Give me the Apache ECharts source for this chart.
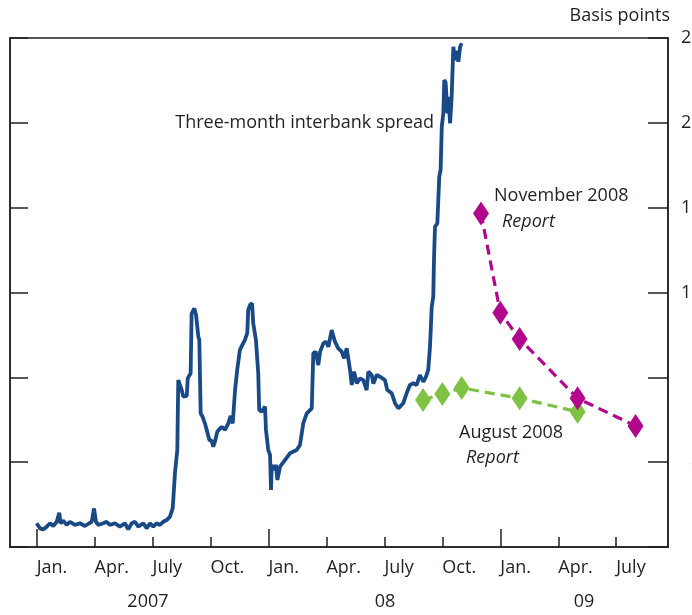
<!DOCTYPE html>
<html>
<head>
<meta charset="utf-8">
<script src="https://cdn.jsdelivr.net/npm/echarts@6/dist/echarts.min.js"></script>
<style>
html,body{margin:0;padding:0;background:#fff;}
#chart{width:692px;height:615px;}
</style>
</head>
<body>
<div id="chart"></div>
<script>
// x values are months since 1 Jan 2007 (0 = Jan 2007)
var quarterTicks = [0, 3, 6, 9, 12, 15, 18, 21, 24, 27, 30];
var quarterLabels = ['Jan.', 'Apr.', 'July', 'Oct.'];
var yearTicks = [0, 12, 24];
var yearLabelPos = [5.76, 18.03, 28.33];
var yearLabels = ['2007', '08', '09'];
var yTicks = [0, 40, 80, 120, 160, 200, 240];

// Three-month interbank spread (basis points)
var spread = [
  [0.00, 11.2], [0.17, 8.8], [0.34, 8.3], [0.52, 9.6], [0.69, 11.2], [0.86, 9.9],
  [1.04, 11.9], [1.17, 16.2], [1.24, 11.2], [1.38, 12.4], [1.55, 10.4], [1.72, 11.9],
  [1.98, 10.4], [2.24, 11.2], [2.50, 9.9], [2.72, 11.2], [2.85, 11.9], [2.97, 18.2],
  [3.07, 11.9], [3.19, 10.4], [3.45, 11.2], [3.62, 11.9], [3.79, 10.4], [4.05, 11.2],
  [4.31, 9.6], [4.57, 11.2], [4.74, 8.3], [4.92, 11.2], [5.09, 11.9], [5.26, 9.6],
  [5.52, 11.2], [5.69, 8.8], [5.87, 11.2], [6.04, 9.6], [6.21, 11.2], [6.38, 10.4],
  [6.55, 11.9], [6.73, 12.7], [6.90, 14.3], [7.04, 18.2], [7.07, 22.0], [7.16, 35.0],
  [7.28, 45.7], [7.33, 78.7], [7.51, 74.0], [7.59, 70.9], [7.77, 71.2], [7.82, 79.5],
  [7.97, 81.9], [8.02, 110.0], [8.16, 112.5], [8.25, 109.4], [8.37, 99.2], [8.42, 97.6],
  [8.49, 63.0], [8.59, 61.4], [8.71, 58.3], [8.80, 59.1], [8.94, 50.5], [9.06, 50.1],
  [9.14, 47.3], [9.23, 49.7], [9.35, 54.4], [9.58, 56.7], [9.75, 55.2], [9.92, 58.3],
  [10.04, 61.8], [10.15, 58.3], [10.27, 74.0], [10.38, 83.5], [10.52, 92.9], [10.64, 95.2],
  [10.78, 97.6], [10.90, 100.8], [10.95, 111.7], [11.04, 114.1], [11.15, 114.9], [11.21, 105.5],
  [11.35, 97.6], [11.47, 81.9], [11.52, 64.6], [11.65, 63.8], [11.82, 66.2], [11.87, 55.2],
  [11.99, 45.7], [12.08, 43.4], [12.13, 26.9], [12.17, 38.7], [12.28, 36.3], [12.39, 38.7],
  [12.46, 31.6], [12.60, 37.9], [12.85, 41.0], [13.11, 44.2], [13.46, 45.7], [13.63, 48.1],
  [13.80, 58.3], [13.98, 63.0], [14.24, 65.4], [14.32, 91.3], [14.44, 92.1], [14.58, 85.8],
  [14.67, 92.0], [14.84, 96.0], [14.98, 96.8], [15.10, 94.4], [15.27, 102.3], [15.44, 96.8],
  [15.61, 93.7], [15.79, 92.1], [15.91, 89.0], [16.05, 93.7], [16.22, 83.5], [16.31, 76.4],
  [16.43, 82.7], [16.57, 77.2], [16.74, 79.5], [16.91, 78.7], [17.08, 74.0], [17.17, 82.7],
  [17.34, 81.1], [17.43, 77.0], [17.60, 81.1], [17.77, 80.3], [18.03, 78.7], [18.15, 74.0],
  [18.38, 72.5], [18.55, 67.8], [18.72, 65.4], [18.81, 64.6], [18.98, 67.8], [19.15, 72.5],
  [19.32, 76.4], [19.50, 77.2], [19.67, 76.4], [19.84, 81.1], [20.01, 77.9], [20.14, 80.0],
  [20.27, 83.5], [20.36, 94.4], [20.45, 113.3], [20.53, 118.0], [20.57, 136.9], [20.62, 151.0],
  [20.74, 152.6], [20.84, 174.6], [20.91, 177.8], [20.97, 198.2], [21.05, 204.5], [21.10, 220.2],
  [21.17, 219.0], [21.26, 204.5], [21.31, 212.3], [21.40, 199.8], [21.48, 212.0], [21.54, 228.0],
  [21.57, 235.9], [21.65, 229.6], [21.74, 234.0], [21.83, 228.8], [21.92, 235.9], [22.00, 237.5]
];

// Market expectations of the spread
var augustMonths = [20, 21, 22, 25, 28];
var augustValues = [69.3, 72.1, 75.0, 70.1, 63.8];
var novemberMonths = [23, 24, 25, 28, 31];
var novemberValues = [157.3, 110.5, 98.1, 70.1, 57.1];

function pairs(xs, ys) { return xs.map(function (x, i) { return [x, ys[i]]; }); }

var FONT = 'Open Sans';
var FS = 18;
var INK = '#231f20';
var chart = echarts.init(document.getElementById('chart'));

chart.setOption({
  animation: false,
  backgroundColor: '#ffffff',
  grid: { left: 10, right: 24, top: 38, bottom: 68, containLabel: false, outerBoundsMode: 'none',
          show: true, borderColor: INK, borderWidth: 1.5, backgroundColor: 'transparent' },
  xAxis: [
    {
      type: 'value', min: -1.38, max: 32.68, position: 'bottom',
      axisLine: { show: true, onZero: false, lineStyle: { color: INK, width: 1.5 } },
      splitLine: { show: false },
      axisTick: { show: true, inside: true, length: 10, customValues: quarterTicks, lineStyle: { color: INK, width: 1.5 } },
      axisLabel: {
        show: true, customValues: quarterTicks, align: 'left', margin: 12,
        fontFamily: FONT, fontSize: FS, color: INK,
        formatter: function (v) { return quarterLabels[Math.round(((v % 12) + 12) % 12 / 3)]; }
      }
    },
    {
      type: 'value', min: -1.38, max: 32.68, position: 'bottom',
      axisLine: { show: false, onZero: false },
      splitLine: { show: false },
      axisTick: { show: true, inside: true, length: 18, customValues: yearTicks, lineStyle: { color: INK, width: 1.5 } },
      axisLabel: {
        show: true, customValues: yearLabelPos, align: 'center', margin: 46,
        fontFamily: FONT, fontSize: FS, color: INK,
        formatter: function (v) {
          var i = yearLabelPos.indexOf(v);
          return i >= 0 ? yearLabels[i] : '';
        }
      }
    }
  ],
  yAxis: [
    {
      type: 'value', min: 0, max: 240, interval: 40, position: 'right',
      axisLine: { show: true, onZero: false, lineStyle: { color: INK, width: 1.5 } },
      splitLine: { show: false },
      axisTick: { show: true, inside: true, length: 20, lineStyle: { color: INK, width: 1.5 } },
      axisLabel: { show: true, align: 'right', margin: 44, fontFamily: FONT, fontSize: FS, color: INK }
    },
    {
      type: 'value', min: 0, max: 240, interval: 40, position: 'left',
      axisLine: { show: true, onZero: false, lineStyle: { color: INK, width: 1.5 } },
      splitLine: { show: false },
      axisTick: { show: true, inside: true, length: 18, lineStyle: { color: INK, width: 1.5 } },
      axisLabel: { show: false }
    }
  ],
  series: [
    {
      name: 'Three-month interbank spread', type: 'line', data: spread,
      showSymbol: false, lineStyle: { color: '#1a4a86', width: 3.8 }, z: 3
    },
    {
      name: 'August 2008 Report', type: 'line', data: pairs(augustMonths, augustValues),
      symbol: 'diamond', symbolSize: [16, 24],
      itemStyle: { color: '#7dc242' },
      lineStyle: { color: '#7dc242', width: 3.2, type: [10, 6] }, z: 4
    },
    {
      name: 'November 2008 Report', type: 'line', data: pairs(novemberMonths, novemberValues),
      symbol: 'diamond', symbolSize: [16, 24],
      itemStyle: { color: '#b0078c' },
      lineStyle: { color: '#b0078c', width: 3.2, type: [10, 6] }, z: 4
    }
  ],
  graphic: [
    { type: 'text', x: 670, y: 16, style: { text: 'Basis points', font: FS + 'px "Open Sans"', fill: INK, align: 'right', verticalAlign: 'middle' } },
    { type: 'text', x: 434, y: 123, style: { text: 'Three-month interbank spread', font: FS + 'px "Open Sans"', fill: INK, align: 'right', verticalAlign: 'middle' } },
    { type: 'text', x: 494, y: 196, style: { text: 'November 2008', font: FS + 'px "Open Sans"', fill: INK, align: 'left', verticalAlign: 'middle' } },
    { type: 'text', x: 502, y: 222, style: { text: 'Report', font: 'italic ' + FS + 'px "Open Sans"', fill: INK, align: 'left', verticalAlign: 'middle' } },
    { type: 'text', x: 459, y: 433, style: { text: 'August 2008', font: FS + 'px "Open Sans"', fill: INK, align: 'left', verticalAlign: 'middle' } },
    { type: 'text', x: 466, y: 458, style: { text: 'Report', font: 'italic ' + FS + 'px "Open Sans"', fill: INK, align: 'left', verticalAlign: 'middle' } }
  ]
});
</script>
</body>
</html>
